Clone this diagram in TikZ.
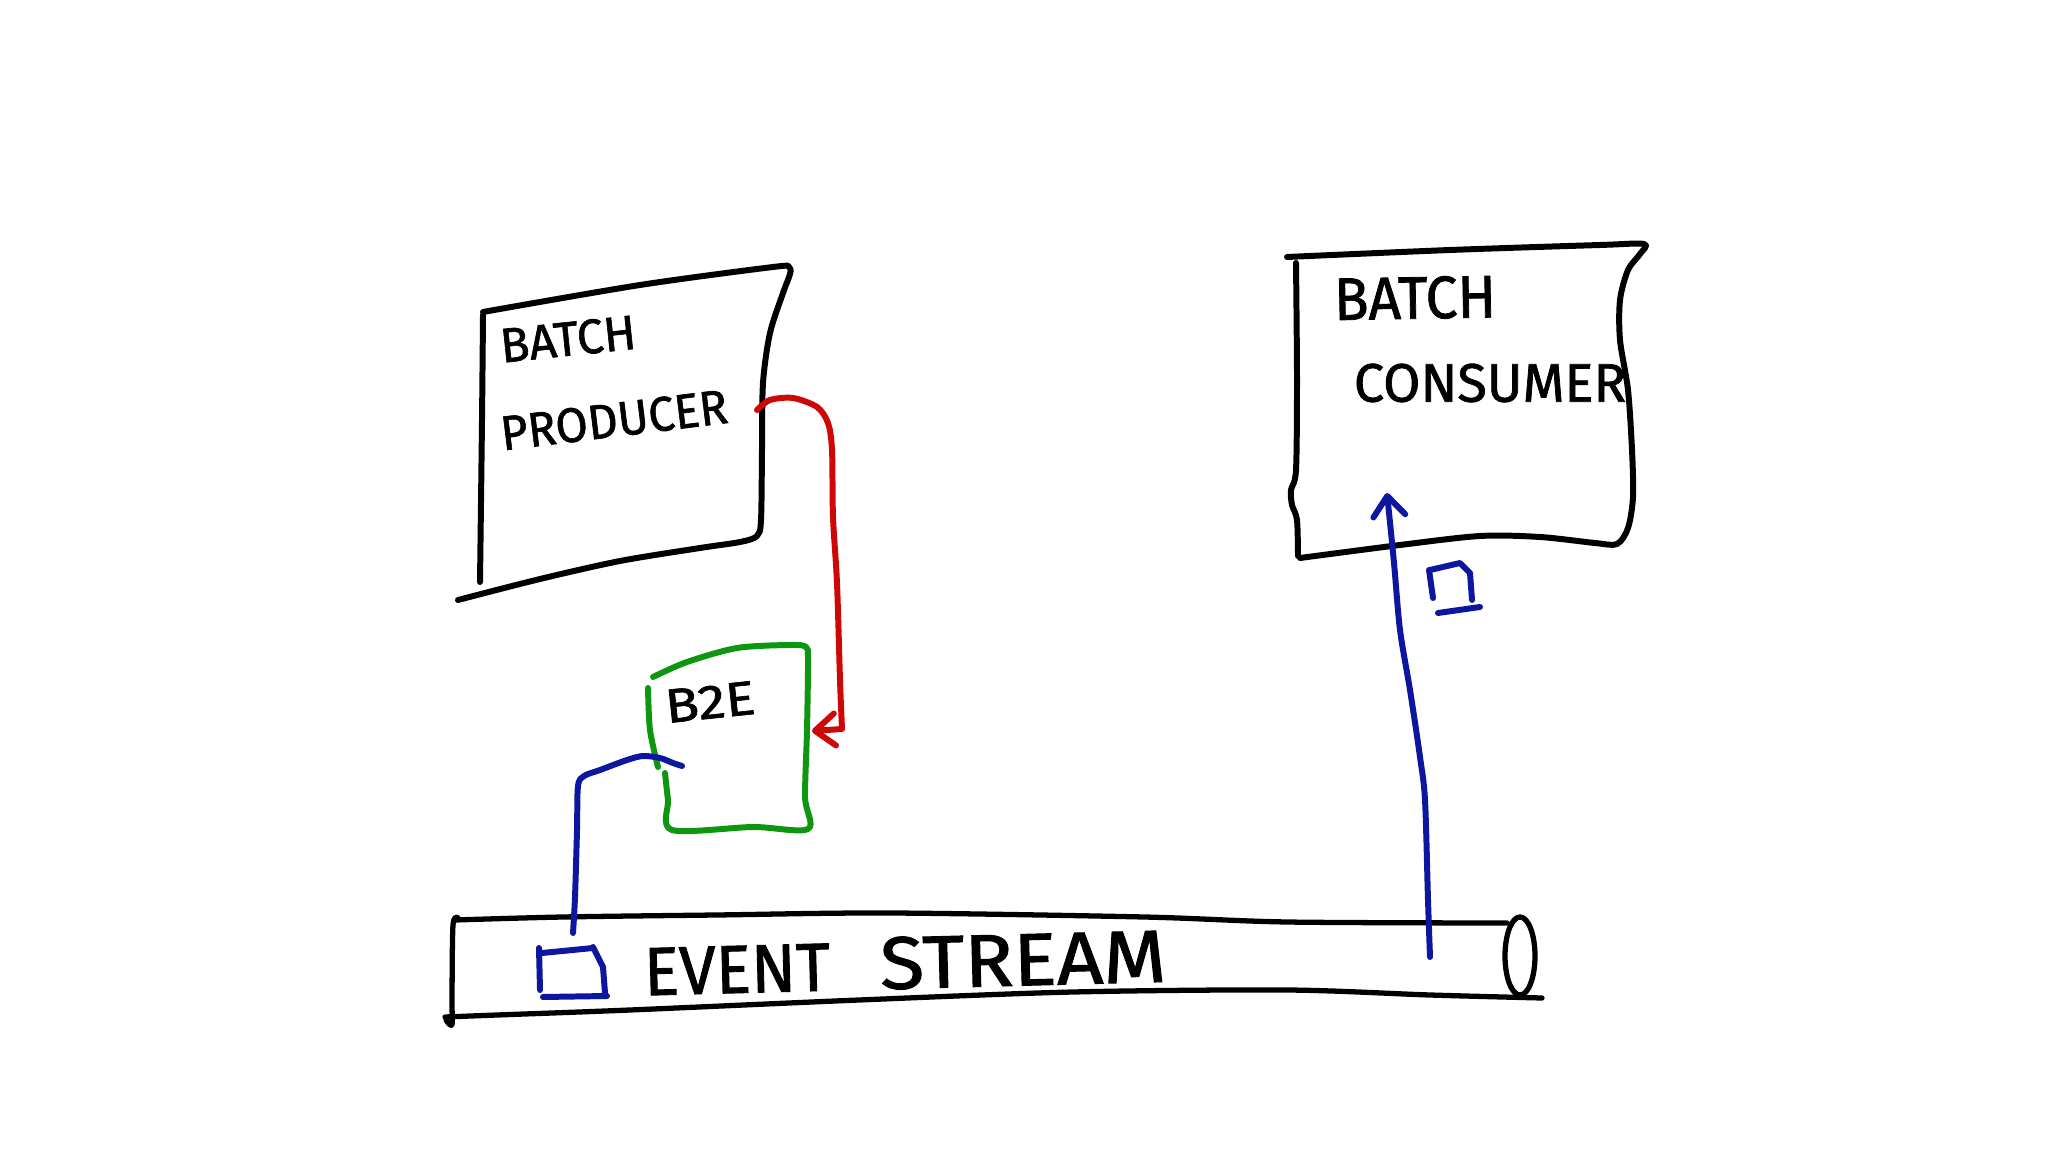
\documentclass[tikz,border=0pt]{standalone}
\usepackage{fontspec}
\setmainfont{Fira Sans}
\newfontfamily\handfont{Fira Sans}[FakeBold=1.3]
\usepackage{graphicx}
\usetikzlibrary{arrows.meta}
\definecolor{skred}{RGB}{204,8,8}
\definecolor{skgreen}{RGB}{14,150,14}
\definecolor{skblue}{RGB}{12,22,158}
\tikzset{
  ink/.style={line width=1.7pt, line cap=round, line join=round},
  blackink/.style={ink, draw=black},
  thinblack/.style={ink, draw=black, line width=1.5pt},
  redink/.style={ink, draw=skred},
  greenink/.style={ink, draw=skgreen},
  blueink/.style={ink, draw=skblue},
  lbl/.style={inner sep=0pt, text=black, font=\handfont},
  barb/.style={-{Straight Barb[length=0.2cm,width=0.32cm,line width=1.7pt,round]}}
}
\begin{document}
\begin{tikzpicture}[x=0.01cm,y=-0.01cm]
\useasboundingbox (0,0) rectangle (2048,1152);
\fill[white] (0,0) rectangle (2048,1152);

% ---- Batch producer box
\draw[blackink] plot[smooth, tension=0.5] coordinates {(483,312) (640,285) (773,267) (789,267) (790,274) (783,293) (770,333) (763,383) (762,450) (761,520) (757,536) (740,542) (700,548) (620,561) (540,579) (458,600)};
\draw[blackink] plot[smooth, tension=0.5] coordinates {(483,315) (482,420) (480,582)};
\node[lbl, rotate=6] (bp1) at (568,339) {\resizebox{1.36cm}{0.34cm}{BATCH}};
\node[lbl, rotate=7] (bp2) at (614,420) {\resizebox{2.28cm}{0.34cm}{PRODUCER}};

% ---- Batch consumer box
\draw[blackink] plot[smooth, tension=0.5] coordinates {(1287,257) (1450,250) (1600,245) (1644,244) (1640,254) (1628,270) (1620,300) (1620,340) (1628,390) (1632,450) (1633,497) (1628,528) (1617,544) (1595,543) (1540,537) (1480,536) (1400,545) (1300,558)};
\draw[blackink] plot[smooth, tension=0.5] coordinates {(1296,263) (1297,380) (1296,470) (1291,490) (1292,505) (1297,520) (1298,556)};
\node[lbl, rotate=1] (bc1) at (1415,298) {\resizebox{1.62cm}{0.42cm}{BATCH}};
\node[lbl] (bc2) at (1490,383) {\resizebox{2.72cm}{0.38cm}{CONSUMER}};

% ---- B2E box
\draw[greenink] plot[smooth, tension=0.5] coordinates {(653,677) (687,662) (737,648) (790,645) (806,647) (808,660) (807,730) (805,797) (808,829) (753,827) (672,830) (668,800) (665,773)};
\draw[greenink] plot[smooth, tension=0.5] coordinates {(648,688) (650,730) (658,767)};
\node[lbl, rotate=6] (b2e) at (710,702) {\resizebox{0.90cm}{0.33cm}{B2E}};

% ---- Event stream
\draw[thinblack] plot[smooth, tension=0.5] coordinates {(455,920) (563,917) (716,915) (890,913) (1144,917) (1287,922) (1507,923)};
\draw[thinblack] plot[smooth, tension=0.5] coordinates {(458,918) (453,925) (452,1000) (452,1025) (446,1020)};
\draw[thinblack] plot[smooth, tension=0.5] coordinates {(445,1017) (497,1015) (630,1010) (859,1000) (1073,992) (1287,990) (1430,995) (1542,998)};
\draw[thinblack] (1520,956) ellipse [x radius=15, y radius=39];
\node[lbl, rotate=1.5] (es) at (905,963) {\resizebox{1.86cm}{0.47cm}{EVENT}\hspace{0.5cm}\resizebox{2.86cm}{0.52cm}{STREAM}};

% ---- event squares
\draw[blueink] (539,948) -- (540,990);
\draw[blueink] (542,953) -- (593,948);
\draw[blueink] (593,947) -- (603,967) -- (605,993);
\draw[blueink] (543,997) -- (607,996);
\draw[blueink] (1430,570) -- (1460,563) -- (1470,573) -- (1472,600);
\draw[blueink] (1429,570) -- (1433,598);
\draw[blueink] (1438,613) -- (1480,607);

% ---- connectors
\coordinate (rs) at (757,410);
\coordinate (re) at (812,731);
\draw[redink, barb] plot[smooth, tension=0.5] coordinates {(rs) (770,400) (793,398) (817,407) (828,423) (832,450) (833,517) (837,583) (840,680) (842,729)} -- (re);

\coordinate (bs) at (682,766);
\coordinate (be) at (573,933);
\draw[blueink] plot[smooth, tension=0.5] coordinates {(bs) (673,763) (660,758) (643,756) (627,760) (600,770) (584,776) (578,786) (577,830) (575,897) (be)};

\coordinate (cs) at (1430,957);
\coordinate (ce) at (1387,493);
\draw[blueink, barb] plot[smooth, tension=0.5] coordinates {(cs) (1428,900) (1425,800) (1420,757) (1410,690) (1400,630) (1394,563) (ce)};
\end{tikzpicture}
\end{document}
